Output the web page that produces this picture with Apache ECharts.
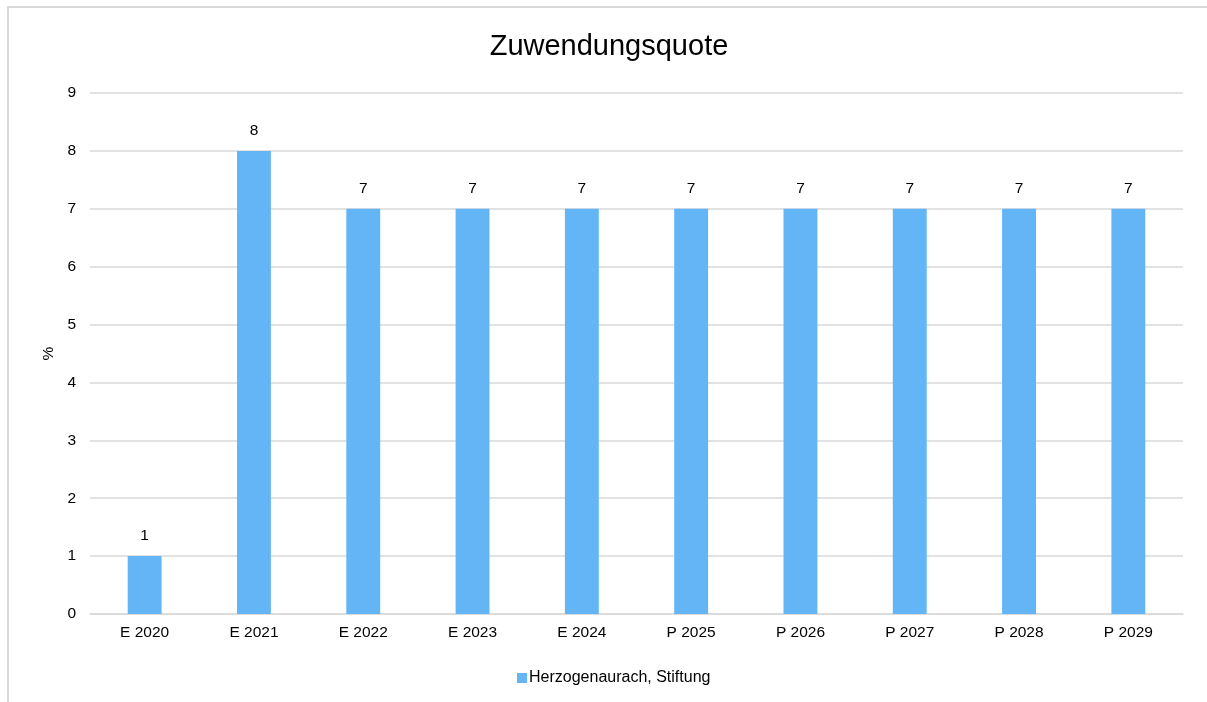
<!DOCTYPE html>
<html>
<head>
<meta charset="utf-8">
<script src="https://cdn.jsdelivr.net/npm/echarts@6/dist/echarts.min.js"></script>
<style>
  html, body { margin: 0; padding: 0; background: #fff; overflow: hidden; }
  #frame {
    position: absolute; left: 7px; top: 6px;
    width: 1210px; height: 710px;
    border: 2px solid #d9d9d9;
    box-sizing: border-box;
  }
  #chart { position: absolute; left: 0; top: 0; width: 1207px; height: 702px; }
</style>
</head>
<body>
<div id="frame"></div>
<div id="chart"></div>
<script>
var categories = ['E 2020', 'E 2021', 'E 2022', 'E 2023', 'E 2024', 'P 2025', 'P 2026', 'P 2027', 'P 2028', 'P 2029'];
var seriesName = 'Herzogenaurach, Stiftung';
var values = [1, 8, 7, 7, 7, 7, 7, 7, 7, 7];

var font = 'Liberation Sans, Arial, sans-serif';
var chart = echarts.init(document.getElementById('chart'));
chart.setOption({
  animation: false,
  title: {
    text: 'Zuwendungsquote',
    left: 604, top: 27,
    textAlign: 'center',
    textStyle: { fontFamily: font, fontSize: 29, fontWeight: 'normal', color: '#000' }
  },
  legend: {
    top: 665, left: 512,
    data: [seriesName],
    icon: 'rect', itemWidth: 10, itemHeight: 10, itemGap: 2,
    textStyle: { fontFamily: font, fontSize: 16, color: '#000', padding: [0, 0, 0, -3] }
  },
  grid: { left: 90, right: 24, top: 93, bottom: 88, containLabel: false },
  xAxis: {
    type: 'category',
    data: categories,
    axisLine: { lineStyle: { color: '#d9d9d9', width: 1.5 } },
    axisTick: { show: false },
    axisLabel: { fontFamily: font, fontSize: 15.5, color: '#000', margin: 11 }
  },
  yAxis: {
    type: 'value',
    min: 0, max: 9, interval: 1,
    name: '%',
    nameLocation: 'middle',
    nameGap: 31,
    nameRotate: 90,
    nameTextStyle: { fontFamily: font, fontSize: 15.5, color: '#000' },
    axisLine: { show: false },
    axisTick: { show: false },
    axisLabel: { fontFamily: font, fontSize: 15.5, color: '#000', margin: 14 },
    splitLine: { lineStyle: { color: '#d9d9d9', width: 1.5 } }
  },
  series: [{
    name: seriesName,
    type: 'bar',
    data: values,
    barWidth: '31%',
    itemStyle: { color: '#64B5F6' },
    label: {
      show: true, position: 'top', distance: 12,
      fontFamily: font, fontSize: 15.5, color: '#000'
    }
  }]
});
</script>
</body>
</html>
